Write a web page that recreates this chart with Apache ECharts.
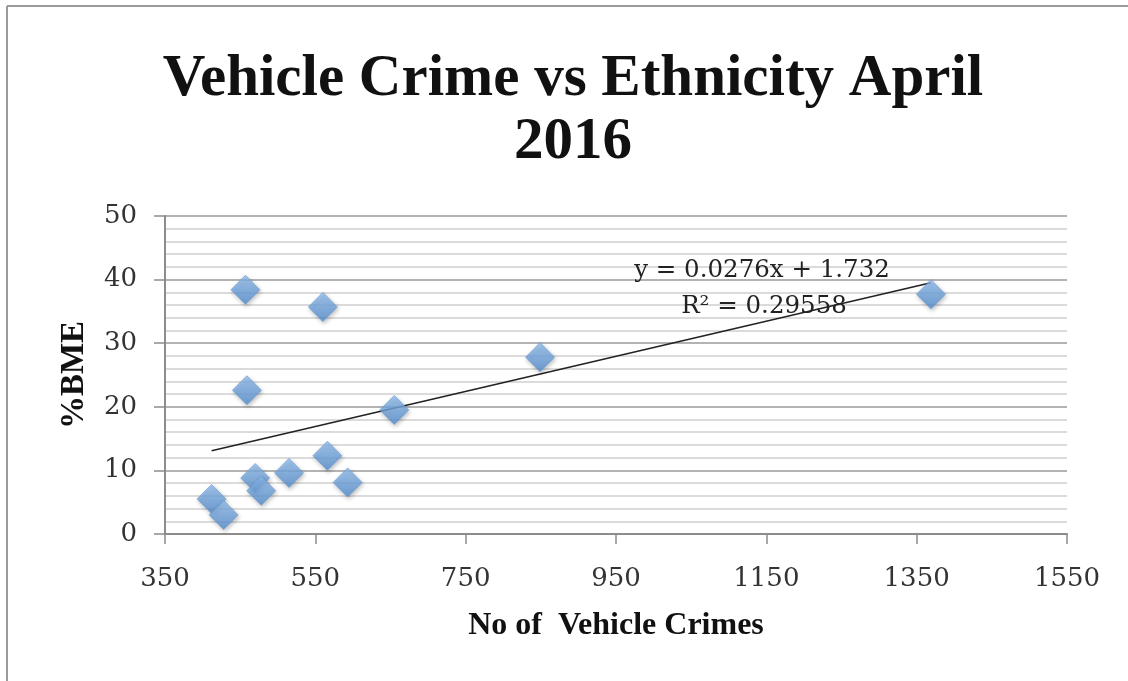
<!DOCTYPE html>
<html>
<head>
<meta charset="utf-8">
<script src="https://cdn.jsdelivr.net/npm/echarts@6/dist/echarts.min.js"></script>
<style>
  html, body { margin: 0; padding: 0; background: #fff; }
  #chart { width: 1128px; height: 681px; }
</style>
</head>
<body>
<div id="chart"></div>
<script>
// Vehicle crimes per area vs share of BME residents, April 2016
const crimes = [412, 428, 470, 478, 515, 566, 593, 655, 459, 457, 560, 849, 1369];
const bmePct = [5.5, 3.0, 8.8, 6.8, 9.6, 12.3, 8.1, 19.5, 22.6, 38.4, 35.7, 27.8, 37.7];

// Linear trend reported for the data
const slope = 0.0276;
const intercept = 1.732;
const rSquared = 0.29558;

const xTicks = [350, 550, 750, 950, 1150, 1350, 1550];
const yTicks = [0, 10, 20, 30, 40, 50];

const points = crimes.map((c, i) => [c, bmePct[i]]);
const xMin = Math.min(...crimes);
const xMax = Math.max(...crimes);
const trend = [xMin, xMax].map(x => [x, slope * x + intercept]);

const serifBold = '"Liberation Serif", "DejaVu Serif", serif';
const serifText = '"DejaVu Serif", "Liberation Serif", serif';

const chart = echarts.init(document.getElementById('chart'), null, { renderer: 'canvas' });
chart.setOption({
  backgroundColor: '#ffffff',
  animation: false,
  title: {
    text: 'Vehicle Crime vs Ethnicity April\n2016',
    left: 568,
    textAlign: 'center',
    top: 43,
    textStyle: {
      fontFamily: serifBold,
      fontWeight: 'bold',
      fontSize: 59,
      lineHeight: 63,
      color: '#111'
    }
  },
  grid: { left: 165, right: 61, top: 216, bottom: 147, containLabel: false },
  xAxis: {
    type: 'value',
    min: xTicks[0],
    max: xTicks[xTicks.length - 1],
    interval: 200,
    name: 'No of  Vehicle Crimes',
    nameLocation: 'middle',
    nameGap: 76,
    nameTextStyle: { fontFamily: serifBold, fontWeight: 'bold', fontSize: 32, color: '#111' },
    axisLine: { show: true, lineStyle: { color: '#8c8c8c', width: 2 } },
    axisTick: { show: true, inside: false, length: 10, lineStyle: { color: '#8c8c8c', width: 1.5 } },
    axisLabel: {
      fontFamily: serifText, fontSize: 26, color: '#333', margin: 32,
      formatter: v => String(v)
    },
    splitLine: { show: false }
  },
  yAxis: {
    type: 'value',
    min: yTicks[0],
    max: yTicks[yTicks.length - 1],
    interval: 10,
    name: '%BME',
    nameLocation: 'middle',
    nameGap: 74,
    nameRotate: 90,
    nameTextStyle: { fontFamily: serifBold, fontWeight: 'bold', fontSize: 33, color: '#111' },
    axisLine: { show: true, lineStyle: { color: '#8c8c8c', width: 2 } },
    axisTick: { show: true, inside: false, length: 11, lineStyle: { color: '#8c8c8c', width: 1.5 } },
    axisLabel: {
      fontFamily: serifText, fontSize: 26, color: '#333', margin: 28,
      formatter: v => String(v)
    },
    splitLine: { show: true, lineStyle: { color: '#9a9a9a', width: 1.5 } },
    minorTick: { show: false, splitNumber: 5 },
    minorSplitLine: { show: true, lineStyle: { color: '#cfcfcf', width: 1.5 } }
  },
  series: [
    {
      type: 'line',
      data: trend,
      symbol: 'none',
      lineStyle: { color: '#222', width: 1.5 },
      z: 3,
      silent: true
    },
    {
      type: 'scatter',
      data: points,
      symbol: 'diamond',
      symbolSize: [29, 29],
      itemStyle: {
        color: new echarts.graphic.LinearGradient(0, 0, 0, 1, [
          { offset: 0, color: '#92bfee' },
          { offset: 1, color: '#548dcf' }
        ]),
        borderColor: '#6699d4',
        borderWidth: 0.8,
        shadowColor: 'rgba(0,0,0,0.3)',
        shadowBlur: 4,
        shadowOffsetX: 1,
        shadowOffsetY: 2
      },
      z: 4
    }
  ],
  graphic: [
    // frame around the chart area (top and left edges)
    { type: 'line', shape: { x1: 7, y1: 6, x2: 1128, y2: 6 }, style: { stroke: '#9a9a9a', lineWidth: 2 } },
    { type: 'line', shape: { x1: 7, y1: 6, x2: 7, y2: 681 }, style: { stroke: '#9a9a9a', lineWidth: 2 } },
    // trend line equation
    {
      type: 'text', x: 762, y: 271, z: 10,
      style: {
        text: 'y = ' + slope + 'x + ' + intercept,
        fontFamily: serifText, fontSize: 24.5, fill: '#222',
        align: 'center', verticalAlign: 'middle'
      }
    },
    {
      type: 'text', x: 764, y: 307, z: 10,
      style: {
        text: 'R\u00B2 = ' + rSquared,
        fontFamily: serifText, fontSize: 24.5, fill: '#222',
        align: 'center', verticalAlign: 'middle'
      }
    }
  ]
});
</script>
</body>
</html>
